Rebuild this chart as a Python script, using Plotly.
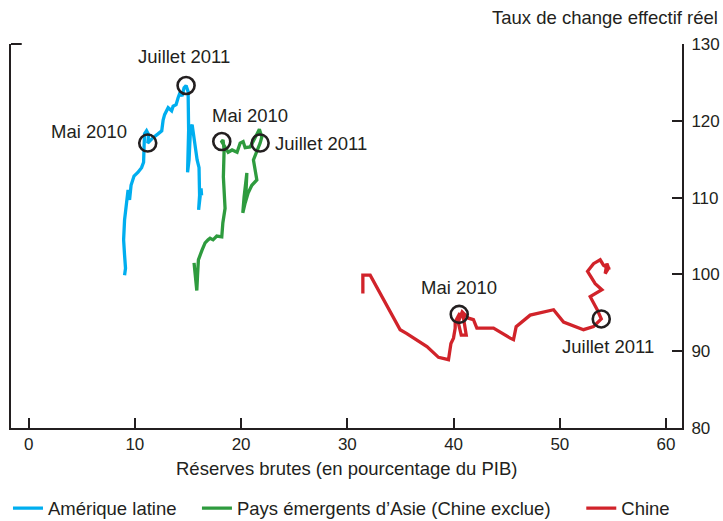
import plotly.graph_objects as go

# ---- data ----
latam_x = [9.03, 9.12, 9.03, 8.94, 9.03, 9.22, 9.36, 9.50, 9.64, 9.92, 10.30, 10.63, 10.82, 10.87, 10.91,
           11.10, 11.29, 11.21, 11.71, 12.18, 12.53, 12.66, 12.80, 13.13, 13.46, 13.60, 13.88, 14.07, 14.26,
           14.44, 14.63, 14.82, 15.01, 15.06, 14.96, 15.10, 15.24, 15.39, 15.57, 15.86, 16.04, 16.09, 16.00,
           16.23, 16.28]
latam_y = [99.9, 100.8, 102.5, 104.5, 107.1, 109.7, 111.0, 109.7, 111.6, 112.8, 113.3, 113.9, 114.6, 116.8, 118.3,
           118.7, 118.2, 117.1, 117.8, 118.3, 118.7, 120.1, 120.8, 121.7, 121.3, 121.9, 122.1, 123.0, 123.7,
           123.2, 124.3, 124.6, 123.8, 118.8, 113.3, 114.9, 119.1, 119.5, 117.5, 114.9, 113.9, 110.3, 108.4,
           111.2, 110.3]

asia_x = [15.57, 15.67, 15.83, 15.90, 15.98, 16.33, 16.61, 16.89, 17.08, 17.36, 17.71, 18.18, 18.28, 18.49,
          18.40, 18.33, 18.40, 18.30, 18.18, 18.78, 19.15, 19.62, 19.91, 20.19, 20.38, 20.85, 21.13, 21.48,
          21.72, 21.95, 21.79, 21.16, 21.48, 21.01, 20.66, 20.38, 20.16, 20.28, 20.54, 20.47, 20.38]
asia_y = [101.5, 99.9, 97.9, 99.9, 101.9, 103.2, 104.1, 104.5, 104.7, 104.5, 105.0, 104.9, 106.7, 108.6,
          111.0, 112.7, 116.2, 117.5, 117.3, 115.9, 116.2, 115.9, 117.1, 117.3, 116.5, 116.6, 117.3, 118.2,
          118.9, 117.9, 117.1, 114.9, 112.3, 111.6, 110.6, 109.3, 108.0, 110.1, 113.2, 111.0, 109.7]

china_x = [31.46, 31.46, 32.15, 33.56, 34.97, 35.60, 37.49, 38.58, 39.52, 39.75, 39.99, 40.15, 40.15, 40.53,
           40.90, 41.19, 40.72, 40.43, 40.81, 41.40, 41.87, 42.19, 43.76, 45.33, 45.64, 45.89, 47.21, 49.41,
           50.35, 52.23, 53.17, 53.90, 53.52, 52.86, 53.96, 53.33, 52.61, 53.17, 53.80, 54.11, 54.58, 54.27,
           54.43, 54.65]
china_y = [97.5, 99.9, 99.9, 96.4, 92.8, 92.3, 90.6, 89.2, 88.9, 91.0, 91.7, 93.0, 93.8, 94.8,
           94.6, 92.1, 92.1, 93.8, 95.1, 94.3, 94.1, 93.0, 93.0, 91.7, 91.5, 93.2, 94.7, 95.4,
           93.8, 92.8, 93.2, 94.2, 95.4, 97.1, 98.0, 98.8, 100.4, 101.4, 101.9, 101.2, 100.8, 100.1,
           101.4, 100.6]

marker_labels = ["Mai 2010", "Juillet 2011", "Mai 2010", "Juillet 2011", "Mai 2010", "Juillet 2011"]
marker_x = [11.21, 14.82, 18.18, 21.79, 40.53, 53.90]
marker_y = [117.1, 124.6, 117.3, 117.1, 94.8, 94.2]

series_names = ["Amérique latine", "Pays émergents d’Asie (Chine exclue)", "Chine"]
series_colors = ["#00AEEF", "#2E9B3E", "#D1232A"]

x_ticks = [0, 10, 20, 30, 40, 50, 60]
y_ticks = [80, 90, 100, 110, 120, 130]

FONT = "Liberation Sans, Arial, Helvetica, sans-serif"
TXT = "#231F20"
FS = 18.5
TFS = 17

# non-breaking spaces widen the gaps between legend entries
legend_pad = ["\u00a0" * 3, "\u00a0" * 5, ""]

fig = go.Figure()
for name, pad, xs, ys, col in zip(series_names, legend_pad, [latam_x, asia_x, china_x],
                                  [latam_y, asia_y, china_y], series_colors):
    fig.add_trace(go.Scatter(x=xs, y=ys, mode="lines", name=name + pad,
                             line=dict(color=col, width=3.3)))

fig.add_trace(go.Scatter(x=marker_x, y=marker_y, mode="markers", showlegend=False,
                         marker=dict(symbol="circle-open", size=17, color="#231F20",
                                     line=dict(width=2.6, color="#231F20"))))

# label offsets (pixels) for each circle
offsets = [(-59, 12), (-2, 29), (28, 26), (61, 0), (0, 27), (7, -28)]
for lab, x, y, (dx, dy) in zip(marker_labels, marker_x, marker_y, offsets):
    fig.add_annotation(x=x, y=y, text=lab, showarrow=False, xshift=dx, yshift=dy,
                       xanchor="center", yanchor="middle",
                       font=dict(size=FS, color=TXT, family=FONT))

fig.add_annotation(xref="paper", yref="paper", x=0.5, y=0, yshift=-40, yanchor="middle",
                   text="Réserves brutes (en pourcentage du PIB)",
                   showarrow=False, font=dict(size=FS, color=TXT, family=FONT))
fig.add_annotation(xref="paper", yref="paper", x=1, xanchor="right", y=1, yanchor="middle", yshift=27,
                   xshift=38, text="Taux de change effectif réel",
                   showarrow=False, font=dict(size=FS, color=TXT, family=FONT))

# small tick at top-left corner
fig.add_shape(type="line", xref="paper", yref="paper", x0=0, x1=0.016, y0=1, y1=1,
              line=dict(color="#231F20", width=2))

fig.update_layout(
    width=723, height=521,
    margin=dict(l=11, r=41, t=44, b=93, autoexpand=False),
    paper_bgcolor="white", plot_bgcolor="white",
    font=dict(family=FONT, size=FS, color=TXT),
    showlegend=True,
    legend=dict(orientation="h", x=-0.0045, xanchor="left", y=-0.21, yanchor="middle",
                font=dict(size=FS, color=TXT), itemwidth=30, traceorder="normal"),
    xaxis=dict(range=[-1.66, 61.5], tickvals=x_ticks, ticks="inside", ticklen=10, tickwidth=2,
               tickcolor="#231F20", showline=True, linecolor="#231F20", linewidth=2,
               showgrid=False, zeroline=False, tickfont=dict(size=TFS, color=TXT),
               ticklabelstandoff=0),
    yaxis=dict(range=[80, 130], tickvals=y_ticks, side="right", ticks="inside", ticklen=10, tickwidth=2,
               tickcolor="#231F20", showline=True, linecolor="#231F20", linewidth=2, mirror=True,
               showgrid=False, zeroline=False, tickfont=dict(size=TFS, color=TXT),
               ticklabelstandoff=4),
)

# remove the browser's default 8px body margin so the 723x521 figure fills the window exactly
fig.write_html("out.html", config={"displayModeBar": False},
               post_script="document.body.style.margin='0';document.body.style.overflow='hidden';")
